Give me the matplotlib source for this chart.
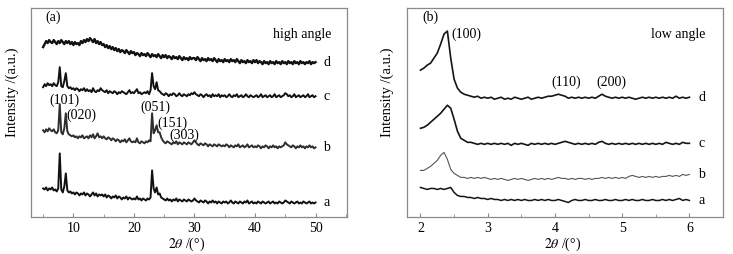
import matplotlib
matplotlib.use("Agg")
import matplotlib.pyplot as plt
import numpy as np
from matplotlib.ticker import MultipleLocator

plt.rcParams["font.family"] = ["Liberation Serif", "DejaVu Serif"]
plt.rcParams["mathtext.fontset"] = "stix"
plt.rcParams["font.size"] = 10

# ---- panel (a): high angle, 2theta = 5..50 step 0.25 ----
X_HIGH = np.arange(5, 50.001, 0.25)

HIGH_D = [
    169, 172, 175, 173, 176, 174, 173, 176, 174, 172, 175, 173, 176, 174, 172, 175, 173, 175, 172, 174,
    171, 174, 172, 173, 171, 175, 173, 176, 174, 177, 175, 178, 176, 174, 177, 173, 175, 172, 174, 171,
    172, 169, 171, 168, 170, 167, 169, 166, 168, 165, 167, 164, 166, 165, 163, 166, 164, 162, 165, 163,
    164, 161, 163, 162, 160, 163, 161, 162, 160, 163, 161, 159, 162, 160, 161, 159, 162, 160, 158, 161,
    159, 161, 158, 160, 159, 157, 160, 158, 159, 157, 160, 158, 156, 159, 157, 158, 156, 159, 157, 158,
    158, 156, 159, 157, 155, 158, 156, 157, 155, 158, 156, 157, 155, 158, 156, 154, 157, 155, 156, 154,
    157, 155, 156, 154, 157, 155, 156, 154, 157, 155, 153, 156, 154, 155, 153, 156, 154, 155, 153, 156,
    154, 156, 153, 155, 154, 152, 155, 153, 154, 152, 155, 153, 154, 152, 155, 153, 154, 152, 155, 153,
    154, 152, 155, 153, 154, 152, 155, 153, 154, 152, 155, 153, 154, 152, 154, 153, 155, 152, 154, 153,
    154,
]
HIGH_C = [
    129, 132, 130, 133, 131, 132, 130, 133, 131, 130, 134, 149, 130, 129, 135, 143, 130, 128, 129, 127,
    128, 126, 128, 127, 125, 127, 126, 128, 125, 127, 125, 126, 124, 128, 125, 124, 126, 125, 128, 126,
    125, 124, 126, 123, 125, 124, 123, 125, 124, 122, 124, 123, 125, 124, 123, 122, 124, 126, 123, 124,
    123, 125, 127, 123, 124, 122, 123, 124, 123, 125, 122, 126, 143, 130, 127, 134, 126, 125, 123, 122,
    121, 123, 122, 120, 122, 121, 123, 122, 120, 121, 123, 121, 120, 122, 121, 120, 122, 121, 123, 122,
    124, 122, 121, 120, 122, 121, 119, 121, 122, 120, 121, 119, 122, 120, 121, 120, 122, 119, 121, 120,
    121, 119, 120, 122, 120, 119, 121, 120, 122, 119, 120, 121, 119, 120, 122, 120, 119, 121, 120, 119,
    120, 121, 119, 120, 122, 119, 120, 121, 119, 120, 121, 119, 120, 122, 119, 120, 121, 119, 120, 121,
    123, 122, 120, 121, 119, 120, 122, 119, 120, 121, 119, 120, 121, 119, 120, 122, 119, 120, 121, 119,
    120,
]
HIGH_B = [
    86, 84, 87, 85, 88, 86, 85, 87, 84, 83, 86, 112, 84, 82, 88, 103, 85, 82, 81, 80,
    81, 79, 80, 78, 80, 79, 81, 78, 79, 80, 78, 81, 79, 82, 78, 80, 83, 79, 80, 78,
    80, 78, 77, 79, 78, 76, 78, 77, 75, 77, 76, 74, 76, 75, 77, 74, 76, 78, 75, 74,
    75, 74, 78, 74, 73, 75, 74, 73, 75, 74, 76, 75, 103, 83, 86, 91, 84, 84, 79, 76,
    74, 73, 75, 74, 73, 72, 74, 73, 75, 72, 74, 73, 72, 74, 73, 72, 74, 73, 72, 74,
    76, 74, 72, 71, 73, 72, 71, 73, 72, 70, 72, 71, 70, 72, 71, 70, 72, 71, 70, 71,
    70, 72, 71, 69, 71, 70, 69, 71, 70, 72, 69, 70, 71, 69, 70, 72, 69, 70, 71, 69,
    70, 69, 71, 70, 68, 70, 69, 71, 70, 68, 70, 69, 71, 69, 70, 68, 70, 69, 70, 71,
    74, 72, 71, 70, 69, 71, 70, 68, 70, 69, 71, 69, 70, 68, 70, 69, 71, 69, 70, 68,
    69,
]
HIGH_A = [
    28, 27, 29, 26, 28, 27, 29, 26, 27, 25, 28, 63, 27, 24, 30, 43, 26, 24, 25, 23,
    24, 22, 24, 23, 21, 23, 22, 24, 21, 23, 22, 20, 22, 24, 21, 23, 20, 22, 21, 22,
    20, 22, 19, 21, 20, 18, 20, 19, 21, 18, 20, 19, 17, 19, 18, 20, 17, 19, 18, 17,
    18, 17, 20, 17, 18, 16, 18, 17, 16, 18, 17, 19, 46, 28, 24, 29, 22, 23, 19, 18,
    17, 16, 18, 16, 17, 15, 17, 16, 18, 15, 17, 16, 15, 17, 16, 15, 17, 16, 15, 16,
    18, 16, 15, 14, 16, 15, 14, 16, 15, 13, 15, 14, 16, 14, 15, 13, 15, 14, 13, 15,
    14, 15, 13, 14, 16, 14, 13, 15, 14, 13, 15, 14, 13, 15, 14, 16, 13, 14, 15, 13,
    14, 13, 15, 14, 13, 15, 14, 13, 14, 15, 13, 14, 15, 13, 14, 13, 15, 14, 13, 14,
    16, 15, 14, 13, 15, 14, 13, 14, 15, 13, 14, 13, 15, 14, 13, 14, 15, 13, 14, 13,
    14,
]

# ---- panel (b): low angle, 2theta = 2..6 step 0.05 ----
X_LOW = np.arange(2, 6.0001, 0.05)

LOW_D = [
    146, 148, 151, 153, 158, 163, 172, 182, 185, 158, 137, 128, 124, 122, 121, 120, 119, 120, 118, 119,
    118, 119, 117, 118, 119, 117, 118, 117, 119, 118, 117, 118, 119, 117, 118, 119, 118, 119, 120, 120,
    121, 122, 121, 120, 118, 119, 118, 119, 118, 119, 118, 119, 118, 120, 122, 120, 119, 118, 119, 118,
    119, 118, 119, 118, 117, 118, 119, 118, 119, 118, 119, 118, 119, 118, 119, 118, 120, 118, 119, 118,
    119,
]
LOW_C = [
    88, 89, 91, 94, 97, 100, 103, 107, 111, 108, 97, 85, 78, 76, 74, 74, 73, 72, 73, 72,
    73, 72, 73, 72, 73, 72, 73, 71, 73, 72, 73, 72, 71, 73, 72, 73, 72, 73, 72, 73,
    72, 73, 74, 75, 74, 73, 72, 73, 72, 73, 72, 73, 72, 74, 75, 73, 72, 73, 72, 73,
    72, 73, 72, 73, 72, 73, 72, 73, 72, 73, 72, 73, 72, 74, 73, 72, 73, 72, 74, 73,
    73,
]
LOW_B = [
    46, 46, 48, 50, 53, 56, 61, 64, 57, 47, 43, 41, 39, 39, 38, 39, 38, 39, 38, 39,
    38, 37, 38, 37, 38, 37, 36, 37, 38, 37, 38, 37, 36, 37, 38, 37, 38, 37, 38, 37,
    38, 39, 38, 38, 37, 38, 37, 38, 38, 37, 38, 37, 38, 38, 39, 38, 39, 38, 39, 38,
    39, 38, 40, 41, 40, 39, 40, 39, 40, 39, 40, 39, 40, 40, 41, 40, 41, 40, 42, 41,
    42,
]
LOW_A = [
    29, 28, 27, 28, 28, 27, 28, 27, 28, 29, 24, 21, 20, 20, 19, 19, 18, 19, 18, 18,
    17, 18, 17, 17, 16, 17, 16, 17, 16, 17, 16, 17, 16, 16, 17, 16, 17, 16, 17, 16,
    16, 17, 16, 15, 14, 16, 17, 16, 16, 17, 16, 16, 17, 16, 16, 17, 16, 16, 17, 16,
    16, 17, 16, 17, 16, 16, 17, 16, 16, 17, 16, 16, 17, 16, 17, 16, 17, 18, 16, 17,
    16,
]

SAMPLE_LABELS = ["a", "b", "c", "d"]
HIGH_PEAKS = ["(101)", "(020)", "(051)", "(151)", "(303)"]
HIGH_PEAK_POS = [(8.6, 116), (11.4, 101), (23.6, 109), (26.4, 93), (28.4, 81)]
LOW_PEAKS = ["(100)", "(110)", "(200)"]
LOW_PEAK_POS = [(2.68, 182), (4.17, 134), (4.84, 134)]

FRAME = "#8a8a8a"

fig = plt.figure(figsize=(7.33, 2.54), dpi=100)
ax_a = fig.add_axes([0.0423, 0.1476, 0.4311, 0.8209])
ax_b = fig.add_axes([0.5553, 0.1476, 0.4311, 0.8209])

high_series = [HIGH_A, HIGH_B, HIGH_C, HIGH_D]
high_colors = ["#111111", "#2e2e2e", "#111111", "#111111"]
high_widths = [1.4, 1.4, 1.4, 1.7]
for ys, col, lw in zip(high_series, high_colors, high_widths):
    ax_a.plot(X_HIGH, ys, color=col, lw=lw)

low_series = [LOW_A, LOW_B, LOW_C, LOW_D]
low_colors = ["#151515", "#555555", "#151515", "#151515"]
low_widths = [1.1, 0.8, 1.2, 1.2]
for ys, col, lw in zip(low_series, low_colors, low_widths):
    ax_b.plot(X_LOW, ys, color=col, lw=lw)

# sample letters at the right end of each curve
for lab, ys in zip(SAMPLE_LABELS, high_series):
    ax_a.text(51.3, ys[-1], lab, ha="left", va="center", fontsize=10)
for lab, ys in zip(SAMPLE_LABELS, low_series):
    ax_b.text(6.13, ys[-1], lab, ha="left", va="center", fontsize=10)

for lab, (x, y) in zip(HIGH_PEAKS, HIGH_PEAK_POS):
    ax_a.text(x, y, lab, ha="center", va="center", fontsize=10)
for lab, (x, y) in zip(LOW_PEAKS, LOW_PEAK_POS):
    ax_b.text(x, y, lab, ha="center", va="center", fontsize=10)

ax_a.text(6.6, 199, "(a)", ha="center", va="center", fontsize=10)
ax_a.text(52.7, 182, "high angle", ha="right", va="center", fontsize=10)
ax_b.text(2.15, 199, "(b)", ha="center", va="center", fontsize=10)
ax_b.text(6.23, 182, "low angle", ha="right", va="center", fontsize=10)

ax_a.set_xlim(3, 55.2)
ax_b.set_xlim(1.8, 6.5)
for ax in (ax_a, ax_b):
    ax.set_ylim(0, 208)
    ax.set_yticks([])
    for sp in ax.spines.values():
        sp.set_color(FRAME)
        sp.set_linewidth(0.9)
    ax.tick_params(axis="x", which="both", direction="in", color=FRAME,
                   labelsize=10, pad=4)
    ax.tick_params(axis="x", which="major", length=3)
    ax.tick_params(axis="x", which="minor", length=2)

ax_a.xaxis.set_major_locator(MultipleLocator(10))
ax_a.xaxis.set_minor_locator(MultipleLocator(5))
ax_b.xaxis.set_major_locator(MultipleLocator(1))
ax_b.xaxis.set_minor_locator(MultipleLocator(0.5))
ax_a.set_xticks([10, 20, 30, 40, 50])
ax_b.set_xticks([2, 3, 4, 5, 6])

fig.text(187 / 733, 1 - 244 / 254, r"$2\theta$ /(°)", ha="center", va="center", fontsize=10)
fig.text(563 / 733, 1 - 244 / 254, r"$2\theta$ /(°)", ha="center", va="center", fontsize=10)
fig.text(12 / 733, 1 - 92 / 254, "Intensity /(a.u.)", rotation=90,
         ha="center", va="center", fontsize=10.5)
fig.text(387 / 733, 1 - 92 / 254, "Intensity /(a.u.)", rotation=90,
         ha="center", va="center", fontsize=10.5)

fig.savefig("out.png", dpi=100)
